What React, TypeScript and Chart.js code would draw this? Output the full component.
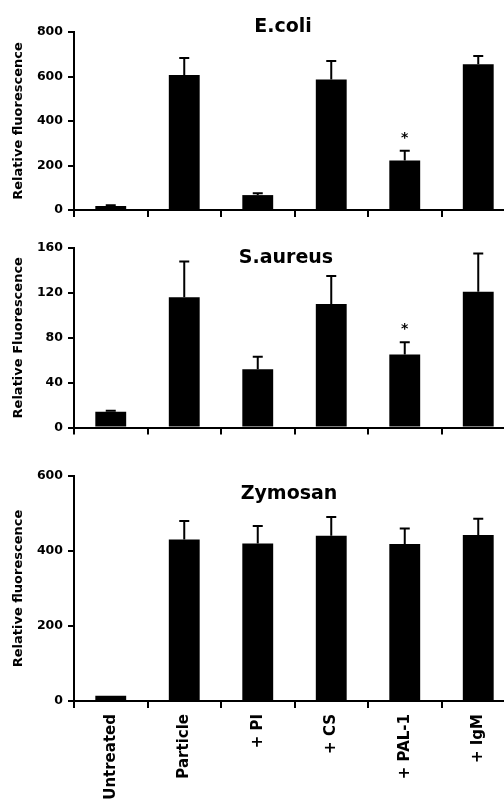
import React, { useEffect, useRef } from "react";
import { Chart, registerables } from "chart.js";
Chart.register(...registerables);

const categories = ["Untreated", "Particle", "+ PI", "+ CS", "+ PAL-1", "+ IgM"];

const ecoliMean = [18, 607, 67, 587, 222, 655];
const ecoliErr = [3, 76, 8, 83, 44, 37];
const ecoliMarks = ["", "", "", "", "*", ""];
const ecoliTicks = [0, 200, 400, 600, 800];

const saureusMean = [14, 116, 52, 110, 65, 121];
const saureusErr = [1, 32, 11, 25, 11, 34];
const saureusMarks = ["", "", "", "", "*", ""];
const saureusTicks = [0, 40, 80, 120, 160];

const zymosanMean = [14, 431, 420, 441, 419, 443];
const zymosanErr = [0, 49, 47, 50, 41, 43];
const zymosanMarks = ["", "", "", "", "", ""];
const zymosanTicks = [0, 200, 400, 600];

const FONT = "'DejaVu Sans', sans-serif";

type Panel = {
  title: string;
  yTitle: string;
  mean: number[];
  err: number[];
  marks: string[];
  ticks: number[];
  top: number;
  height: number;
  padTop: number;
  xHeight: number;
  showLabels: boolean;
  titleX: number;
  titleY: number;
};

const panels: Panel[] = [
  { title: "E.coli", yTitle: "Relative fluorescence", mean: ecoliMean, err: ecoliErr, marks: ecoliMarks, ticks: ecoliTicks, top: 0, height: 230, padTop: 32, xHeight: 20, showLabels: false, titleX: 283, titleY: 32 },
  { title: "S.aureus", yTitle: "Relative Fluorescence", mean: saureusMean, err: saureusErr, marks: saureusMarks, ticks: saureusTicks, top: 230, height: 210, padTop: 18, xHeight: 10, showLabels: false, titleX: 286, titleY: 33 },
  { title: "Zymosan", yTitle: "Relative fluorescence", mean: zymosanMean, err: zymosanErr, marks: zymosanMarks, ticks: zymosanTicks, top: 440, height: 360, padTop: 36, xHeight: 99, showLabels: true, titleX: 289, titleY: 59 },
];

function PanelChart({ p }: { p: Panel }) {
  const ref = useRef<HTMLCanvasElement | null>(null);
  useEffect(() => {
    if (!ref.current) return;
    const overlay = {
      id: "overlay",
      afterDatasetsDraw(chart: any) {
        const { ctx } = chart;
        const meta = chart.getDatasetMeta(0);
        const y = chart.scales.y;
        ctx.save();
        ctx.strokeStyle = "#000";
        ctx.fillStyle = "#000";
        ctx.lineWidth = 2;
        meta.data.forEach((bar: any, i: number) => {
          const e = p.err[i];
          const topPx = y.getPixelForValue(p.mean[i] + e);
          if (e > 0) {
            ctx.beginPath();
            ctx.moveTo(bar.x, bar.y);
            ctx.lineTo(bar.x, topPx);
            ctx.moveTo(bar.x - 5, topPx);
            ctx.lineTo(bar.x + 5, topPx);
            ctx.stroke();
          }
          if (p.marks[i]) {
            ctx.font = `bold 14px ${FONT}`;
            ctx.textAlign = "center";
            ctx.textBaseline = "alphabetic";
            ctx.fillText(p.marks[i], bar.x, topPx - 9);
          }
        });
        ctx.font = `bold 19px ${FONT}`;
        ctx.textAlign = "center";
        ctx.textBaseline = "alphabetic";
        ctx.fillText(p.title, p.titleX, p.titleY);
        ctx.restore();
      },
    };
    const chart = new Chart(ref.current, {
      type: "bar",
      data: {
        labels: categories,
        datasets: [
          {
            data: p.mean,
            backgroundColor: "#000",
            borderWidth: 0,
            categoryPercentage: 1,
            barPercentage: 0.42,
          },
        ],
      },
      options: {
        responsive: false,
        animation: false,
        devicePixelRatio: 1,
        layout: { padding: { top: p.padTop, left: 0, right: 15, bottom: 0 } },
        plugins: { legend: { display: false }, tooltip: { enabled: false }, title: { display: false } },
        scales: {
          x: {
            afterFit: (s: any) => {
              s.height = p.xHeight;
            },
            grid: { offset: true, drawOnChartArea: false, drawTicks: true, tickLength: 7, color: "#000", lineWidth: 2 },
            border: { display: true, color: "#000", width: 2 },
            ticks: {
              display: p.showLabels,
              autoSkip: false,
              minRotation: 90,
              maxRotation: 90,
              padding: 6,
              color: "#000",
              font: { family: FONT, size: 15, weight: "bold" },
            },
          },
          y: {
            min: 0,
            max: p.ticks[p.ticks.length - 1],
            afterFit: (s: any) => {
              s.width = 74;
            },
            grid: { drawOnChartArea: false, drawTicks: true, tickLength: 6, color: "#000", lineWidth: 2 },
            border: { display: true, color: "#000", width: 2 },
            ticks: {
              stepSize: p.ticks[1] - p.ticks[0],
              padding: 5,
              color: "#000",
              font: { family: FONT, size: 12.5, weight: "bold" },
            },
            title: {
              display: true,
              text: p.yTitle,
              color: "#000",
              padding: { top: 11, bottom: 0 },
              font: { family: FONT, size: 13, weight: "bold" },
            },
          },
        },
      },
      plugins: [overlay],
    } as any);
    return () => chart.destroy();
  }, [p]);
  return (
    <canvas
      ref={ref}
      width={530}
      height={p.height}
      style={{ position: "absolute", left: 0, top: p.top, width: 530, height: p.height }}
    />
  );
}

export default function App() {
  return (
    <div
      style={{
        position: "absolute",
        left: 0,
        top: 0,
        width: 504,
        height: 800,
        overflow: "hidden",
        background: "#fff",
      }}
    >
      {panels.map((p) => (
        <PanelChart key={p.title} p={p} />
      ))}
    </div>
  );
}
